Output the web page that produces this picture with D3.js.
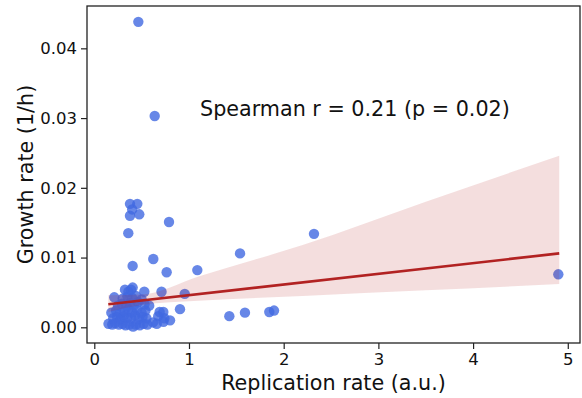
<!DOCTYPE html>
<html>
<head>
<meta charset="utf-8">
<script src="https://cdn.jsdelivr.net/npm/d3@7"></script>
<style>
  html, body { margin: 0; padding: 0; background: #fff; }
  svg { display: block; font-family: "DejaVu Sans", sans-serif; }
</style>
</head>
<body>
<svg id="chart" width="582" height="398"></svg>
<script>
// ---- data ----
const replicationRate = [
  0.465, 0.638,
  0.377, 0.454, 0.377, 0.475, 0.40, 0.789, 0.359,
  0.405, 0.623, 0.764, 1.088, 1.539, 2.32, 4.90,
  1.426, 1.591, 1.848, 1.898, 0.955, 0.905,
  // dense cluster
  0.15, 0.19, 0.22, 0.26, 0.30, 0.33, 0.37, 0.41, 0.44, 0.48, 0.52, 0.56, 0.62, 0.66, 0.73, 0.80,
  0.20, 0.24, 0.28, 0.31, 0.35, 0.39, 0.43, 0.47, 0.51, 0.55, 0.675, 0.74,
  0.18, 0.23, 0.27, 0.32, 0.36, 0.40, 0.45, 0.50, 0.54, 0.729, 0.69,
  0.25, 0.29, 0.34, 0.38, 0.42, 0.46, 0.53, 0.58,
  0.211, 0.30, 0.35, 0.40, 0.44, 0.50,
  0.324, 0.36, 0.388, 0.405, 0.528, 0.71
];
const growthRate = [
  0.0438, 0.0303,
  0.0177, 0.0177, 0.0160, 0.0162, 0.0169, 0.0151, 0.0135,
  0.0088, 0.0098, 0.0079, 0.0082, 0.0106, 0.0134, 0.0076,
  0.0016, 0.0021, 0.0022, 0.0024, 0.0048, 0.0026,
  // dense cluster
  0.0005, 0.0004, 0.0006, 0.0004, 0.0005, 0.0003, 0.0004, 0.0001, 0.0004, 0.0003, 0.0005, 0.0004, 0.0007, 0.0005, 0.0008, 0.0010,
  0.0013, 0.0015, 0.0012, 0.0016, 0.0014, 0.0013, 0.0017, 0.0012, 0.0015, 0.0013, 0.0016, 0.0013,
  0.0021, 0.0024, 0.0020, 0.0023, 0.0026, 0.0022, 0.0025, 0.0021, 0.0024, 0.0022, 0.0022,
  0.0031, 0.0034, 0.0030, 0.0035, 0.0032, 0.0036, 0.0033, 0.0031,
  0.0043, 0.0041, 0.0044, 0.0042, 0.0045, 0.0040,
  0.0054, 0.0051, 0.0054, 0.0057, 0.0051, 0.0051
];
// regression line end points and confidence band
const fitX = [0.148, 4.91];
const fitY = [0.0033, 0.0106];
const bandX = [0.148, 0.5, 1.1, 2.2, 3.5, 4.91];
const bandLow = [0.0022, 0.0032, 0.0038, 0.0045, 0.0053, 0.0062];
const bandHigh = [0.0046, 0.0047, 0.0073, 0.0118, 0.0180, 0.0246];
const xTicks = [0, 1, 2, 3, 4, 5];
const yTicks = [0.00, 0.01, 0.02, 0.03, 0.04];
const annotation = "Spearman r = 0.21 (p = 0.02)";
const xLabel = "Replication rate (a.u.)";
const yLabel = "Growth rate (1/h)";

// ---- layout ----
const svg = d3.select("#chart");
const L = 87, R = 580, T = 6, B = 343;
const x = d3.scaleLinear().domain([-0.077, 5.129]).range([L, R]);
const y = d3.scaleLinear().domain([-0.00225, 0.04607]).range([B, T]);

// points
svg.append("g").selectAll("circle")
  .data(d3.range(replicationRate.length))
  .join("circle")
  .attr("cx", i => x(replicationRate[i]))
  .attr("cy", i => y(growthRate[i]))
  .attr("r", 5.2)
  .attr("fill", "#4169e1")
  .attr("fill-opacity", 0.8);

// band
const area = d3.area()
  .x(i => x(bandX[i]))
  .y0(i => y(bandLow[i]))
  .y1(i => y(bandHigh[i]))
  .curve(d3.curveMonotoneX);
svg.append("path")
  .attr("d", area(d3.range(bandX.length)))
  .attr("fill", "#b22222")
  .attr("fill-opacity", 0.15);

// regression line
svg.append("line")
  .attr("x1", x(fitX[0])).attr("y1", y(fitY[0]))
  .attr("x2", x(fitX[1])).attr("y2", y(fitY[1]))
  .attr("stroke", "#b22222")
  .attr("stroke-width", 2.6)
  .attr("stroke-linecap", "butt");

// axes
const xAxis = svg.append("g")
  .attr("transform", `translate(0,${B})`)
  .call(d3.axisBottom(x).tickValues(xTicks).tickFormat(d3.format("d")).tickSize(6).tickPadding(4));
const yAxis = svg.append("g")
  .attr("transform", `translate(${L},0)`)
  .call(d3.axisLeft(y).tickValues(yTicks).tickFormat(d3.format(".2f")).tickSize(6).tickPadding(4));
[xAxis, yAxis].forEach(g => {
  g.select(".domain").remove();
  g.selectAll(".tick line").attr("stroke", "#222").attr("stroke-width", 1.2);
  g.selectAll(".tick text").attr("fill", "#111").style("font-size", "16.5px").style("font-family", "DejaVu Sans");
});

// frame
svg.append("rect")
  .attr("x", L).attr("y", T).attr("width", R - L).attr("height", B - T)
  .attr("fill", "none").attr("stroke", "#222").attr("stroke-width", 1.3);

// labels
svg.append("text")
  .attr("x", (L + R) / 2).attr("y", 390)
  .attr("text-anchor", "middle")
  .style("font-size", "20.7px").attr("fill", "#111")
  .text(xLabel);
svg.append("text")
  .attr("transform", `translate(33,${(T + B) / 2}) rotate(-90)`)
  .attr("text-anchor", "middle")
  .style("font-size", "20.7px").attr("fill", "#111")
  .text(yLabel);
svg.append("text")
  .attr("x", 200).attr("y", 115.5)
  .style("font-size", "20.7px").attr("fill", "#111")
  .text(annotation);
</script>
</body>
</html>
